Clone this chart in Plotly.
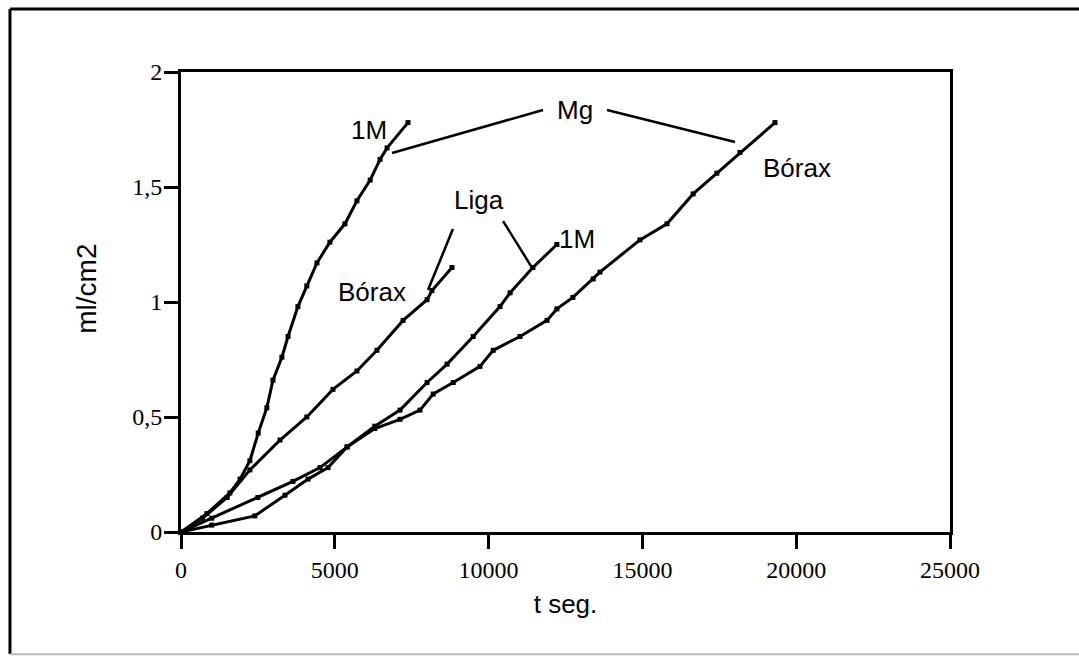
import plotly.graph_objects as go

# Hydrogen evolution (ml/cm2) versus time (s)
mg_1m_t = [0, 840, 1590, 1920, 2240, 2510, 2790, 2990, 3280, 3480, 3800, 4090,
           4420, 4840, 5330, 5720, 6150, 6470, 6700, 7380]
mg_1m_v = [0, 0.08, 0.17, 0.23, 0.31, 0.43, 0.54, 0.66, 0.76, 0.85, 0.98, 1.07,
           1.17, 1.26, 1.34, 1.44, 1.53, 1.62, 1.67, 1.78]

liga_borax_t = [0, 700, 1500, 2240, 3220, 4090, 4940, 5720, 6370, 7220, 8000, 8160, 8810]
liga_borax_v = [0, 0.06, 0.15, 0.27, 0.40, 0.50, 0.62, 0.70, 0.79, 0.92, 1.01, 1.05, 1.15]

liga_1m_t = [0, 1000, 2400, 3380, 4130, 4780, 5400, 6300, 7120, 8000, 8650, 9500,
             10370, 10700, 11440, 12220]
liga_1m_v = [0, 0.03, 0.07, 0.16, 0.23, 0.28, 0.37, 0.46, 0.53, 0.65, 0.73, 0.85,
             0.98, 1.04, 1.15, 1.25]

mg_borax_t = [0, 1000, 2500, 3640, 4520, 5400, 6300, 7120, 7770, 8200, 8850, 9720,
              10150, 11020, 11900, 12220, 12740, 13400, 13620, 14920, 15800, 16650,
              17420, 18170, 19310]
mg_borax_v = [0, 0.06, 0.15, 0.22, 0.28, 0.37, 0.45, 0.49, 0.53, 0.60, 0.65, 0.72,
              0.79, 0.85, 0.92, 0.97, 1.02, 1.10, 1.13, 1.27, 1.34, 1.47,
              1.56, 1.65, 1.78]

x_tick_vals = [0, 5000, 10000, 15000, 20000, 25000]
x_tick_text = ["0", "5000", "10000", "15000", "20000", "25000"]
y_tick_vals = [0, 0.5, 1, 1.5, 2]
y_tick_text = ["0", "0,5", "1", "1,5", "2"]

SANS = "Liberation Sans, Arial, sans-serif"
SERIF = "Liberation Serif, Times New Roman, serif"

fig = go.Figure()
for name, t, v in [("Mg 1M", mg_1m_t, mg_1m_v),
                   ("Liga Bórax", liga_borax_t, liga_borax_v),
                   ("Liga 1M", liga_1m_t, liga_1m_v),
                   ("Mg Bórax", mg_borax_t, mg_borax_v)]:
    fig.add_trace(go.Scatter(
        x=t, y=v, name=name, mode="lines+markers",
        line=dict(color="black", width=3),
        marker=dict(symbol="square", size=5, color="black"),
        showlegend=False,
    ))

# Curve labels with leader lines
labels = [
    ("Mg", 12810, 1.835),
    ("1M", 6110, 1.748),
    ("Bórax", 20030, 1.583),
    ("Liga", 9690, 1.443),
    ("1M", 12870, 1.274),
    ("Bórax", 6210, 1.043),
]
for text, x, y in labels:
    fig.add_annotation(x=x, y=y, text=text, showarrow=False,
                       font=dict(family=SANS, size=26, color="black"))

leaders = [
    (11770, 1.835, 6860, 1.648),
    (13850, 1.835, 18010, 1.696),
    (8840, 1.317, 8030, 1.052),
    (10470, 1.352, 11440, 1.143),
]
for x0, y0, x1, y1 in leaders:
    fig.add_shape(type="line", xref="x", yref="y", x0=x0, y0=y0, x1=x1, y1=y1,
                  line=dict(color="black", width=2.5))

# Vertical axis title
fig.add_annotation(xref="paper", yref="paper", x=-0.124, y=0.528, text="ml/cm2",
                   xanchor="center", yanchor="middle",
                   textangle=-90, showarrow=False,
                   font=dict(family=SANS, size=28, color="black"))

# Outer frame
fig.add_shape(type="line", xref="paper", yref="paper", x0=-0.2224, y0=1.137,
              x1=-0.2224, y1=-0.265, line=dict(color="black", width=3))
fig.add_shape(type="line", xref="paper", yref="paper", x0=-0.2224, y0=1.137,
              x1=1.17, y1=1.137, line=dict(color="black", width=3))
fig.add_shape(type="line", xref="paper", yref="paper", x0=-0.2224, y0=-0.266,
              x1=1.17, y1=-0.266, line=dict(color="#bbbbbb", width=2))

fig.update_layout(
    width=1079, height=658,
    margin=dict(l=181, r=129, t=72, b=126),
    paper_bgcolor="white", plot_bgcolor="white",
    xaxis=dict(
        range=[0, 25000], tickvals=x_tick_vals, ticktext=x_tick_text,
        showline=True, linecolor="black", linewidth=3, mirror=True,
        ticks="outside", ticklen=14, tickwidth=2.5, tickcolor="black",
        showgrid=False, zeroline=False,
        tickfont=dict(family=SERIF, size=24, color="black"),
        title=dict(text="t seg.", font=dict(family=SANS, size=26, color="black"),
                   standoff=14),
    ),
    yaxis=dict(
        range=[0, 2], tickvals=y_tick_vals, ticktext=y_tick_text,
        showline=True, linecolor="black", linewidth=3, mirror=True,
        ticks="outside", ticklen=14, tickwidth=2.5, tickcolor="black",
        showgrid=False, zeroline=False, ticklabelstandoff=-3,
        tickfont=dict(family=SERIF, size=24, color="black"),
    ),
)

fig.write_html("out.html")
